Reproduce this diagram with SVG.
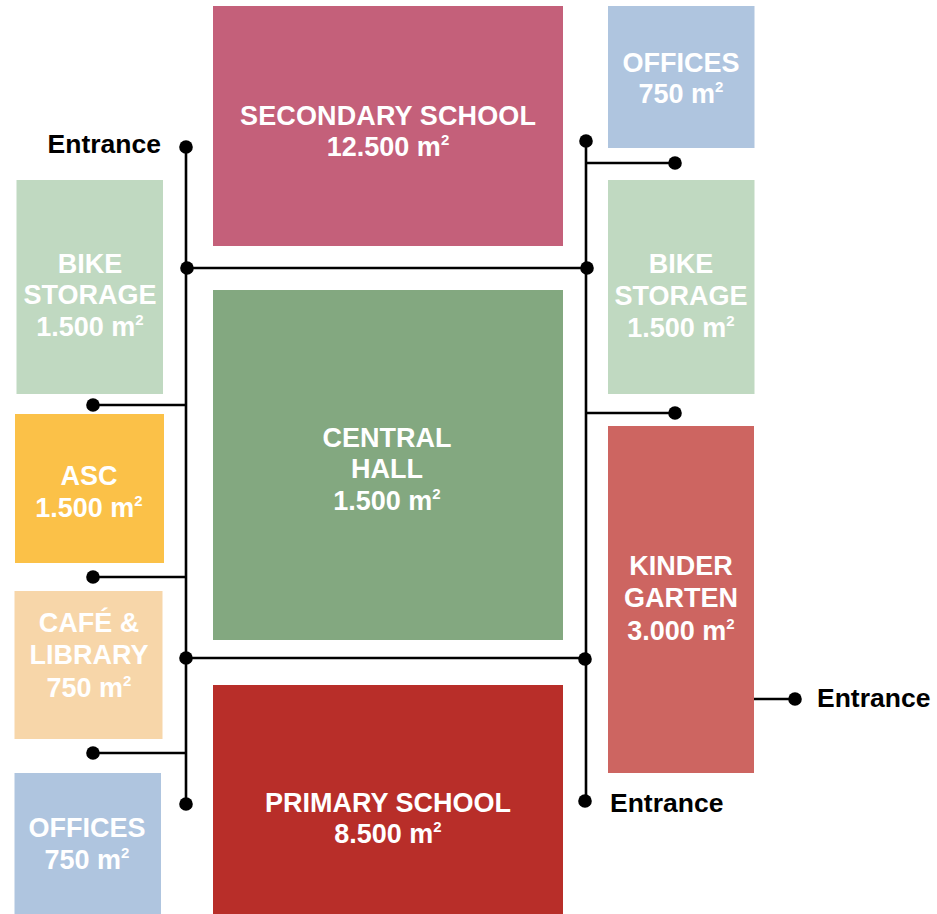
<svg xmlns="http://www.w3.org/2000/svg" width="937" height="914" viewBox="0 0 937 914">
<style>
text{font-family:"Liberation Sans",Arial,sans-serif;font-weight:bold;}
.l{fill:#fff;font-size:27px;text-anchor:middle;}
.e{fill:#000;font-size:26.5px;}
.c line{stroke:#000;stroke-width:2.6;}
.c circle{fill:#000;}
</style>
<rect width="937" height="914" fill="#fff"/>
<g id="secondary-school"><rect x="213" y="6" width="350" height="240" fill="#C4607A"/>
<text class="l" x="388" y="125" textLength="296">SECONDARY SCHOOL</text>
<text class="l" x="388" y="156">12.500 m<tspan font-size="15" dy="-11">2</tspan></text></g>
<g id="central-hall"><rect x="213" y="290" width="350" height="350" fill="#83A880"/>
<text class="l" x="387" y="447">CENTRAL</text>
<text class="l" x="387" y="478">HALL</text>
<text class="l" x="387" y="510">1.500 m<tspan font-size="15" dy="-11">2</tspan></text></g>
<g id="primary-school"><rect x="213" y="685" width="350" height="229" fill="#B82E29"/>
<text class="l" x="388" y="812">PRIMARY SCHOOL</text>
<text class="l" x="388" y="843">8.500 m<tspan font-size="15" dy="-11">2</tspan></text></g>
<g id="bike-storage-left"><rect x="16.5" y="180" width="146.5" height="214" fill="#C0D9C1"/>
<text class="l" x="90" y="273">BIKE</text>
<text class="l" x="90" y="304">STORAGE</text>
<text class="l" x="90" y="336">1.500 m<tspan font-size="15" dy="-11">2</tspan></text></g>
<g id="asc"><rect x="15" y="414" width="149" height="149" fill="#FBC148"/>
<text class="l" x="89" y="485">ASC</text>
<text class="l" x="89" y="517">1.500 m<tspan font-size="15" dy="-11">2</tspan></text></g>
<g id="cafe-library"><rect x="14.5" y="591" width="148" height="148" fill="#F7D6A9"/>
<text class="l" x="89" y="632">CAFÉ &amp;</text>
<text class="l" x="89" y="664">LIBRARY</text>
<text class="l" x="89" y="697">750 m<tspan font-size="15" dy="-11">2</tspan></text></g>
<g id="offices-left"><rect x="14.5" y="773" width="146.5" height="141" fill="#AFC5DF"/>
<text class="l" x="87" y="837">OFFICES</text>
<text class="l" x="87" y="869">750 m<tspan font-size="15" dy="-11">2</tspan></text></g>
<g id="offices-right"><rect x="608" y="6" width="146.5" height="142" fill="#AFC5DF"/>
<text class="l" x="681" y="72">OFFICES</text>
<text class="l" x="681" y="103">750 m<tspan font-size="15" dy="-11">2</tspan></text></g>
<g id="bike-storage-right"><rect x="608" y="180" width="146.5" height="214" fill="#C0D9C1"/>
<text class="l" x="681" y="273">BIKE</text>
<text class="l" x="681" y="305">STORAGE</text>
<text class="l" x="681" y="337">1.500 m<tspan font-size="15" dy="-11">2</tspan></text></g>
<g id="kindergarten"><rect x="608" y="426" width="146" height="347" fill="#CD6561"/>
<text class="l" x="681" y="575">KINDER</text>
<text class="l" x="681" y="607">GARTEN</text>
<text class="l" x="681" y="640">3.000 m<tspan font-size="15" dy="-11">2</tspan></text></g>
<g id="connectors" class="c">
<line x1="186" y1="147" x2="186" y2="804"/>
<line x1="186" y1="268" x2="587" y2="268"/>
<line x1="186" y1="658" x2="586" y2="658"/>
<line x1="93" y1="405" x2="186" y2="405"/>
<line x1="93" y1="577" x2="186" y2="577"/>
<line x1="93" y1="753" x2="186" y2="753"/>
<line x1="586" y1="141" x2="586" y2="801"/>
<line x1="586" y1="163" x2="675" y2="163"/>
<line x1="586" y1="413" x2="675" y2="413"/>
<line x1="754" y1="699" x2="795" y2="699"/>
<circle cx="186" cy="147" r="6.8"/>
<circle cx="187" cy="268" r="6.8"/>
<circle cx="186" cy="658" r="6.8"/>
<circle cx="186" cy="804" r="6.8"/>
<circle cx="93" cy="405" r="6.8"/>
<circle cx="93" cy="577" r="6.8"/>
<circle cx="93" cy="753" r="6.8"/>
<circle cx="586" cy="141" r="6.8"/>
<circle cx="587" cy="268" r="6.8"/>
<circle cx="585" cy="659" r="6.8"/>
<circle cx="585" cy="801" r="6.8"/>
<circle cx="675" cy="163" r="6.8"/>
<circle cx="675" cy="413" r="6.8"/>
<circle cx="795" cy="699" r="6.8"/>
</g>
<g id="entrance-labels">
<text class="e" x="161" y="153" text-anchor="end">Entrance</text>
<text class="e" x="817" y="707">Entrance</text>
<text class="e" x="610" y="812">Entrance</text>
</g>
</svg>
